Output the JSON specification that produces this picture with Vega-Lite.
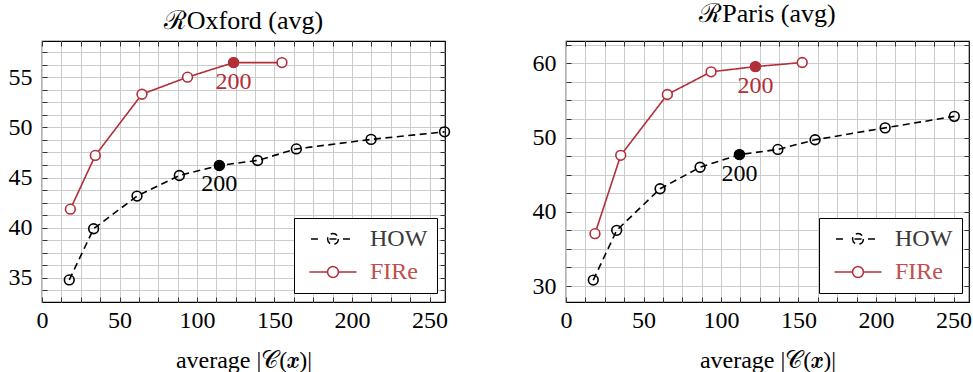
{
  "$schema": "https://vega.github.io/schema/vega-lite/v6.json",
  "background": "white",
  "padding": {"left": 7, "top": 0, "right": 0, "bottom": 0},
  "config": {
    "font": "Liberation Serif",
    "view": {"stroke": "#000000", "strokeWidth": 1.2},
    "axis": {
      "labelFont": "Liberation Serif", "labelFontSize": 24, "labelColor": "#000000",
      "titleFont": "Liberation Serif", "titleFontSize": 24, "titleFontWeight": "normal", "titleColor": "#000000",
      "grid": true, "gridColor": "#cccccc", "gridWidth": 1,
      "tickSize": -5, "tickColor": "#333333", "tickWidth": 1,
      "domain": false, "labelOverlap": false, "labelFlush": false, "labelBound": false
    },
    "axisX": {"labelPadding": 11, "titlePadding": 16},
    "axisY": {"labelPadding": 15},
    "title": {"font": "Liberation Serif", "fontSize": 26, "fontWeight": "normal", "color": "#000000", "offset": 6}
  },
  "datasets": {
    "oxford": [
      {"series": "HOW", "x": 17.6, "y": 34.8},
      {"series": "HOW", "x": 33.3, "y": 39.9},
      {"series": "HOW", "x": 61.3, "y": 43.15},
      {"series": "HOW", "x": 88.6, "y": 45.2},
      {"series": "HOW", "x": 114.4, "y": 46.2, "label": "200"},
      {"series": "HOW", "x": 139.1, "y": 46.7},
      {"series": "HOW", "x": 164.1, "y": 47.85},
      {"series": "HOW", "x": 212.3, "y": 48.8},
      {"series": "HOW", "x": 259.7, "y": 49.55},
      {"series": "FIRe", "x": 18.3, "y": 41.85},
      {"series": "FIRe", "x": 34.4, "y": 47.2},
      {"series": "FIRe", "x": 64.5, "y": 53.3},
      {"series": "FIRe", "x": 93.9, "y": 55.0},
      {"series": "FIRe", "x": 123.6, "y": 56.45, "label": "200"},
      {"series": "FIRe", "x": 154.8, "y": 56.45}
    ],
    "paris": [
      {"series": "HOW", "x": 17.6, "y": 30.8},
      {"series": "HOW", "x": 32.7, "y": 37.5},
      {"series": "HOW", "x": 60.7, "y": 43.1},
      {"series": "HOW", "x": 86.5, "y": 46.0},
      {"series": "HOW", "x": 111.9, "y": 47.7, "label": "200"},
      {"series": "HOW", "x": 136.7, "y": 48.4},
      {"series": "HOW", "x": 160.7, "y": 49.7},
      {"series": "HOW", "x": 205.9, "y": 51.3},
      {"series": "HOW", "x": 250.5, "y": 52.85},
      {"series": "FIRe", "x": 18.7, "y": 37.05},
      {"series": "FIRe", "x": 35.3, "y": 47.6},
      {"series": "FIRe", "x": 65.4, "y": 55.8},
      {"series": "FIRe", "x": 93.6, "y": 58.85},
      {"series": "FIRe", "x": 122.2, "y": 59.55, "label": "200"},
      {"series": "FIRe", "x": 152.4, "y": 60.1}
    ]
  },
  "spacing": 121,
  "bounds": "flush",
  "resolve": {"scale": {"color": "independent", "fill": "independent", "strokeDash": "independent", "x": "independent", "y": "independent"}, "legend": {"color": "independent"}},
  "hconcat": [
    {
      "width": 403, "height": 261,
      "title": "ℛOxford (avg)",
      "data": {"name": "oxford"},
      "layer": [
        {
          "encoding": {
            "x": {"field": "x", "type": "quantitative", "scale": {"domain": [0, 260], "nice": false, "zero": false},
              "axis": {"orient": "bottom", "values": [0,12.5,25,37.5,50,62.5,75,87.5,100,112.5,125,137.5,150,162.5,175,187.5,200,212.5,225,237.5,250], "labelExpr": "datum.value % 50 === 0 ? datum.label : ''", "title": "average |𝒞(𝒙)|"}},
            "y": {"field": "y", "type": "quantitative", "scale": {"domain": [32.6, 58.6], "nice": false, "zero": false},
              "axis": {"orient": "left", "values": [33.75,35,36.25,37.5,38.75,40,41.25,42.5,43.75,45,46.25,47.5,48.75,50,51.25,52.5,53.75,55,56.25,57.5], "labelExpr": "datum.value % 5 === 0 ? datum.label : ''", "title": null}}
          },
          "layer": [
            {"mark": {"type": "line", "strokeWidth": 1.6},
             "encoding": {
               "color": {"field": "series", "type": "nominal", "scale": {"domain": ["HOW", "FIRe"], "range": ["#000000", "#b22f38"]},
                 "legend": {"orient": "none", "legendX": 252, "legendY": 177, "title": null, "fillColor": "white", "strokeColor": "#000000", "padding": 9, "rowPadding": 9, "symbolSize": 121, "symbolStrokeWidth": 1.5, "symbolFillColor": "white", "labelFont": "Liberation Serif", "labelFontSize": 24, "labelOffset": 43,
                   "encode": {
                     "symbols": {"update": {"shape": {"signal": "datum.value === 'HOW' ? 'M-0.73,0H0.54M2.63,0H3.91M5.09,0H6.54M4.25,0A0.98,0.98,0,1,1,2.29,0A0.98,0.98,0,1,1,4.25,0' : 'M-1,0H2.29M4.25,0H7.55M4.25,0A0.98,0.98,0,1,1,2.29,0A0.98,0.98,0,1,1,4.25,0'"}, "fill": {"value": "white"}, "strokeDash": {"value": [1, 0]}, "opacity": {"value": 1}}},
                     "labels": {"update": {"fill": {"signal": "datum.value === 'HOW' ? '#3a3a3a' : '#c0504d'"}}}
                   }}},
               "strokeDash": {"field": "series", "type": "nominal", "scale": {"domain": ["HOW", "FIRe"], "range": [[7, 4.5], [1, 0]]}, "legend": null}}},
            {"mark": {"type": "point", "shape": "circle", "filled": false, "size": 95, "strokeWidth": 1.6, "opacity": 1},
             "encoding": {
               "color": {"field": "series", "type": "nominal"},
               "fill": {"field": "series", "type": "nominal", "scale": {"domain": ["HOW", "FIRe"], "range": ["transparent", "white"]}, "legend": null}}},
            {"transform": [{"filter": "datum.label === '200' && datum.series === 'HOW'"}],
             "mark": {"type": "point", "shape": "circle", "filled": true, "size": 120, "opacity": 1, "color": "#000000"}},
            {"transform": [{"filter": "datum.label === '200' && datum.series === 'FIRe'"}],
             "mark": {"type": "point", "shape": "circle", "filled": true, "size": 120, "opacity": 1, "color": "#b22f38"}},
            {"transform": [{"filter": "datum.label === '200' && datum.series === 'HOW'"}],
             "mark": {"type": "text", "dy": 19, "fontSize": 24, "font": "Liberation Serif", "color": "#000000"},
             "encoding": {"text": {"field": "label"}}},
            {"transform": [{"filter": "datum.label === '200' && datum.series === 'FIRe'"}],
             "mark": {"type": "text", "dy": 19, "fontSize": 24, "font": "Liberation Serif", "color": "#b22f38"},
             "encoding": {"text": {"field": "label"}}}
          ]
        },
        {
          "mark": {"type": "point", "opacity": 0},
          "encoding": {
            "x": {"field": "x", "type": "quantitative", "axis": {"orient": "top", "values": [0,12.5,25,37.5,50,62.5,75,87.5,100,112.5,125,137.5,150,162.5,175,187.5,200,212.5,225,237.5,250], "labels": false, "grid": false, "title": null}},
            "y": {"field": "y", "type": "quantitative", "axis": {"orient": "right", "values": [33.75,35,36.25,37.5,38.75,40,41.25,42.5,43.75,45,46.25,47.5,48.75,50,51.25,52.5,53.75,55,56.25,57.5], "labels": false, "grid": false, "title": null}}
          }
        }
      ],
      "resolve": {"axis": {"x": "independent", "y": "independent"}}
    },
    {
      "width": 403, "height": 261,
      "title": "ℛParis (avg)",
      "data": {"name": "paris"},
      "layer": [
        {
          "encoding": {
            "x": {"field": "x", "type": "quantitative", "scale": {"domain": [0, 260], "nice": false, "zero": false},
              "axis": {"orient": "bottom", "values": [0,12.5,25,37.5,50,62.5,75,87.5,100,112.5,125,137.5,150,162.5,175,187.5,200,212.5,225,237.5,250], "labelExpr": "datum.value % 50 === 0 ? datum.label : ''", "title": "average |𝒞(𝒙)|"}},
            "y": {"field": "y", "type": "quantitative", "scale": {"domain": [27.85, 63.0], "nice": false, "zero": false},
              "axis": {"orient": "left", "values": [30,32.5,35,37.5,40,42.5,45,47.5,50,52.5,55,57.5,60,62.5], "labelExpr": "datum.value % 10 === 0 ? datum.label : ''", "title": null}}
          },
          "layer": [
            {"mark": {"type": "line", "strokeWidth": 1.6},
             "encoding": {
               "color": {"field": "series", "type": "nominal", "scale": {"domain": ["HOW", "FIRe"], "range": ["#000000", "#b22f38"]},
                 "legend": {"orient": "none", "legendX": 253, "legendY": 177, "title": null, "fillColor": "white", "strokeColor": "#000000", "padding": 9, "rowPadding": 9, "symbolSize": 121, "symbolStrokeWidth": 1.5, "symbolFillColor": "white", "labelFont": "Liberation Serif", "labelFontSize": 24, "labelOffset": 43,
                   "encode": {
                     "symbols": {"update": {"shape": {"signal": "datum.value === 'HOW' ? 'M-0.73,0H0.54M2.63,0H3.91M5.09,0H6.54M4.25,0A0.98,0.98,0,1,1,2.29,0A0.98,0.98,0,1,1,4.25,0' : 'M-1,0H2.29M4.25,0H7.55M4.25,0A0.98,0.98,0,1,1,2.29,0A0.98,0.98,0,1,1,4.25,0'"}, "fill": {"value": "white"}, "strokeDash": {"value": [1, 0]}, "opacity": {"value": 1}}},
                     "labels": {"update": {"fill": {"signal": "datum.value === 'HOW' ? '#3a3a3a' : '#c0504d'"}}}
                   }}},
               "strokeDash": {"field": "series", "type": "nominal", "scale": {"domain": ["HOW", "FIRe"], "range": [[7, 4.5], [1, 0]]}, "legend": null}}},
            {"mark": {"type": "point", "shape": "circle", "filled": false, "size": 95, "strokeWidth": 1.6, "opacity": 1},
             "encoding": {
               "color": {"field": "series", "type": "nominal"},
               "fill": {"field": "series", "type": "nominal", "scale": {"domain": ["HOW", "FIRe"], "range": ["transparent", "white"]}, "legend": null}}},
            {"transform": [{"filter": "datum.label === '200' && datum.series === 'HOW'"}],
             "mark": {"type": "point", "shape": "circle", "filled": true, "size": 120, "opacity": 1, "color": "#000000"}},
            {"transform": [{"filter": "datum.label === '200' && datum.series === 'FIRe'"}],
             "mark": {"type": "point", "shape": "circle", "filled": true, "size": 120, "opacity": 1, "color": "#b22f38"}},
            {"transform": [{"filter": "datum.label === '200' && datum.series === 'HOW'"}],
             "mark": {"type": "text", "dy": 19, "fontSize": 24, "font": "Liberation Serif", "color": "#000000"},
             "encoding": {"text": {"field": "label"}}},
            {"transform": [{"filter": "datum.label === '200' && datum.series === 'FIRe'"}],
             "mark": {"type": "text", "dy": 19, "fontSize": 24, "font": "Liberation Serif", "color": "#b22f38"},
             "encoding": {"text": {"field": "label"}}}
          ]
        },
        {
          "mark": {"type": "point", "opacity": 0},
          "encoding": {
            "x": {"field": "x", "type": "quantitative", "axis": {"orient": "top", "values": [0,12.5,25,37.5,50,62.5,75,87.5,100,112.5,125,137.5,150,162.5,175,187.5,200,212.5,225,237.5,250], "labels": false, "grid": false, "title": null}},
            "y": {"field": "y", "type": "quantitative", "axis": {"orient": "right", "values": [30,32.5,35,37.5,40,42.5,45,47.5,50,52.5,55,57.5,60,62.5], "labels": false, "grid": false, "title": null}}
          }
        }
      ],
      "resolve": {"axis": {"x": "independent", "y": "independent"}}
    }
  ]
}
